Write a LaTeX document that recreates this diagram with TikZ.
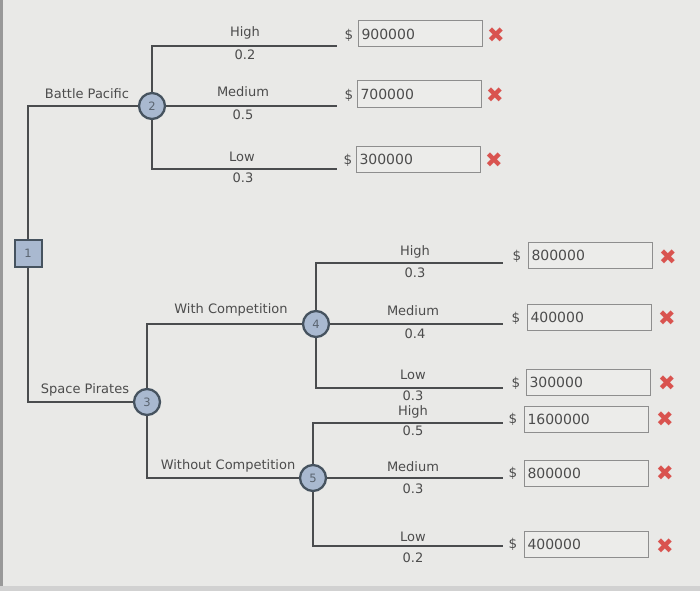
\documentclass[tikz,border=0pt]{standalone}
\usepackage{fontspec}
\setmainfont{DejaVu Sans}
\begin{document}
\begin{tikzpicture}[x=1pt,y=-1pt,
  edge/.style={draw=lineC,line width=2.7pt},
  chance/.style={circle,draw=nodeB,fill=nodeF,line width=2.3pt,minimum size=26pt,inner sep=0pt,font=\fontsize{11.5}{13}\selectfont,text=nodeT},
  decision/.style={rectangle,draw=nodeB,fill=nodeF,line width=2pt,minimum size=27pt,inner sep=0pt,font=\fontsize{11.5}{13}\selectfont,text=nodeT},
  lab/.style={font=\fontsize{13}{15}\selectfont,text=txtC,inner sep=0pt},
  valbox/.style={draw=boxB,fill=boxF,line width=1pt,minimum width=124pt,minimum height=26pt,inner sep=0pt,text width=117pt,align=left,font=\fontsize{14}{16}\selectfont,text=txtC},
  dollar/.style={font=\fontsize{13.5}{15}\selectfont,text=txtC,inner sep=0pt},
  xm/.style={font=\fontsize{21}{22}\selectfont,text=xred,inner sep=0pt}
]
\definecolor{bg}{HTML}{E9E9E7}
\definecolor{lineC}{HTML}{4A4C4E}
\definecolor{nodeB}{HTML}{46535F}
\definecolor{nodeF}{HTML}{A9B9D0}
\definecolor{nodeT}{HTML}{5A6470}
\definecolor{txtC}{HTML}{4C4C4C}
\definecolor{boxB}{HTML}{8E8E8E}
\definecolor{boxF}{HTML}{ECECEA}
\definecolor{xred}{HTML}{D9534F}
\useasboundingbox (0,0) rectangle (700,591);
\fill[bg] (0,0) rectangle (700,591);
\fill[black!40] (0,0) rectangle (3,591);
\fill[black!18] (0,586) rectangle (700,591);

% decision / chance nodes
\node[decision] (n1) at (28,253) {1};
\node[chance] (n2) at (152,106) {2};
\node[chance] (n3) at (147,402) {3};
\node[chance] (n4) at (316,324) {4};
\node[chance] (n5) at (313,478) {5};

% leaf end points
\coordinate (e21) at (337,46);
\coordinate (e22) at (337,106);
\coordinate (e23) at (337,169);
\coordinate (e41) at (503,263);
\coordinate (e42) at (503,324);
\coordinate (e43) at (503,388);
\coordinate (e51) at (503,423);
\coordinate (e52) at (503,478);
\coordinate (e53) at (503,546);

% connectors
\draw[edge] (n1) |- (n2);
\draw[edge] (n1) |- (n3);
\draw[edge] (n2) |- (e21);
\draw[edge] (n2) -- (e22);
\draw[edge] (n2) |- (e23);
\draw[edge] (n3) |- (n4);
\draw[edge] (n3) |- (n5);
\draw[edge] (n4) |- (e41);
\draw[edge] (n4) -- (e42);
\draw[edge] (n4) |- (e43);
\draw[edge] (n5) |- (e51);
\draw[edge] (n5) -- (e52);
\draw[edge] (n5) |- (e53);

% decision branch labels
\node[lab] (lbp) at (87,94) {Battle Pacific};
\node[lab] (lsp) at (85,390) {Space Pirates};
\node[lab] (lwc) at (231,310) {With Competition};
\node[lab] (lwo) at (228,466) {Without Competition};

% top chance branch labels
\node[lab] (t1a) at (245,33) {High};
\node[lab] (t1b) at (245,55) {0.2};
\node[lab] (t2a) at (243,92) {Medium};
\node[lab] (t2b) at (243,115) {0.5};
\node[lab] (t3a) at (242,157) {Low};
\node[lab] (t3b) at (243,178) {0.3};

% node 4 branch labels
\node[lab] (f1a) at (415,252) {High};
\node[lab] (f1b) at (415,273) {0.3};
\node[lab] (f2a) at (413,311) {Medium};
\node[lab] (f2b) at (415,334) {0.4};
\node[lab] (f3a) at (413,375) {Low};
\node[lab] (f3b) at (413,396) {0.3};

% node 5 branch labels
\node[lab] (g1a) at (413,412) {High};
\node[lab] (g1b) at (413,431) {0.5};
\node[lab] (g2a) at (413,467) {Medium};
\node[lab] (g2b) at (413,489) {0.3};
\node[lab] (g3a) at (413,537) {Low};
\node[lab] (g3b) at (413,558) {0.2};

% payoff boxes
\node[dollar] (d1) at (349,35) {\$};
\node[valbox] (b1) at (420,34) {900000};
\node[xm] (x1) at (496,35) {✖};
\node[dollar] (d2) at (349,95) {\$};
\node[valbox] (b2) at (419,94) {700000};
\node[xm] (x2) at (495,95) {✖};
\node[dollar] (d3) at (348,160) {\$};
\node[valbox] (b3) at (418,159) {300000};
\node[xm] (x3) at (494,160) {✖};

\node[dollar] (d4) at (517,256) {\$};
\node[valbox] (b4) at (590,255) {800000};
\node[xm] (x4) at (668,257) {✖};
\node[dollar] (d5) at (516,318) {\$};
\node[valbox] (b5) at (589,317) {400000};
\node[xm] (x5) at (667,318) {✖};
\node[dollar] (d6) at (516,383) {\$};
\node[valbox] (b6) at (588,382) {300000};
\node[xm] (x6) at (667,383) {✖};
\node[dollar] (d7) at (513,419) {\$};
\node[valbox] (b7) at (586,419) {1600000};
\node[xm] (x7) at (665,419) {✖};
\node[dollar] (d8) at (513,473) {\$};
\node[valbox] (b8) at (586,473) {800000};
\node[xm] (x8) at (665,473) {✖};
\node[dollar] (d9) at (513,544) {\$};
\node[valbox] (b9) at (586,544) {400000};
\node[xm] (x9) at (665,546) {✖};
\end{tikzpicture}
\end{document}
